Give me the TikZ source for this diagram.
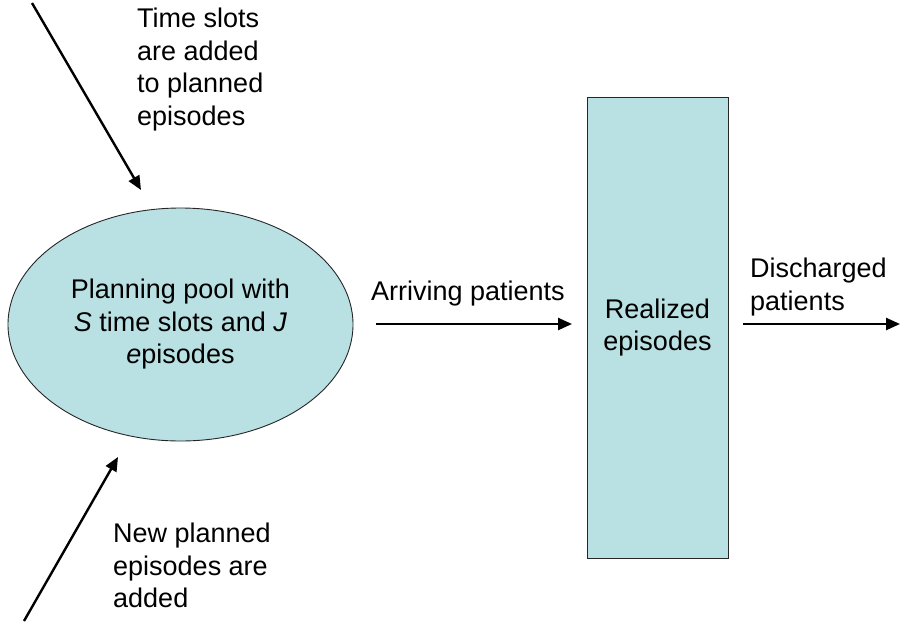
\documentclass[tikz,border=0pt]{standalone}
\usepackage{fontspec}
\setmainfont{Liberation Sans}
\usetikzlibrary{arrows.meta,shapes.geometric}
\definecolor{boxfill}{RGB}{185,224,227}
\begin{document}
\begin{tikzpicture}[x=1pt,y=-1pt,
  txt/.style={inner sep=0pt,font=\fontsize{27}{32.5}\selectfont},
  arr/.style={line width=2.4pt,-{Triangle[length=14pt,width=12pt]}},
  shape box/.style={fill=boxfill,draw=black!85,line width=0.9pt}]
\useasboundingbox (0,0) rectangle (901,624);
\node[shape box,ellipse,minimum width=345pt,minimum height=233pt,inner sep=0pt,
  txt,align=center] (pool) at (180.5,324.5)
  {Planning pool with\\\textit{S} time slots and \textit{J}\\\textit{e}pisodes};
\node[shape box,rectangle,minimum width=141pt,minimum height=461pt,inner sep=0pt,
  txt,align=center] (real) at (657.5,327.5) {Realized\\episodes};
\node[txt,align=left,anchor=north west] (ttop) at (137,8)
  {Time slots\\are added\\to planned\\episodes};
\node[txt,align=left,anchor=north west] (tbot) at (113,523)
  {New planned\\episodes are\\added};
\node[txt,anchor=base west] (tarr) at (371,300) {Arriving patients};
\node[txt,align=left,anchor=north west] (tdis) at (750,258)
  {Discharged\\patients};
\coordinate (t1) at (32,3);
\coordinate (t2) at (141,190);
\coordinate (b1) at (24,621);
\coordinate (b2) at (118,457);
\coordinate (pout) at (376,324);
\coordinate (rin) at (572,324);
\coordinate (rout) at (743,324);
\coordinate (exit) at (900,324);
\draw[arr] (t1) -- (t2);
\draw[arr] (b1) -- (b2);
\draw[arr] (pout) -- (rin);
\draw[arr] (rout) -- (exit);
\end{tikzpicture}
\end{document}
